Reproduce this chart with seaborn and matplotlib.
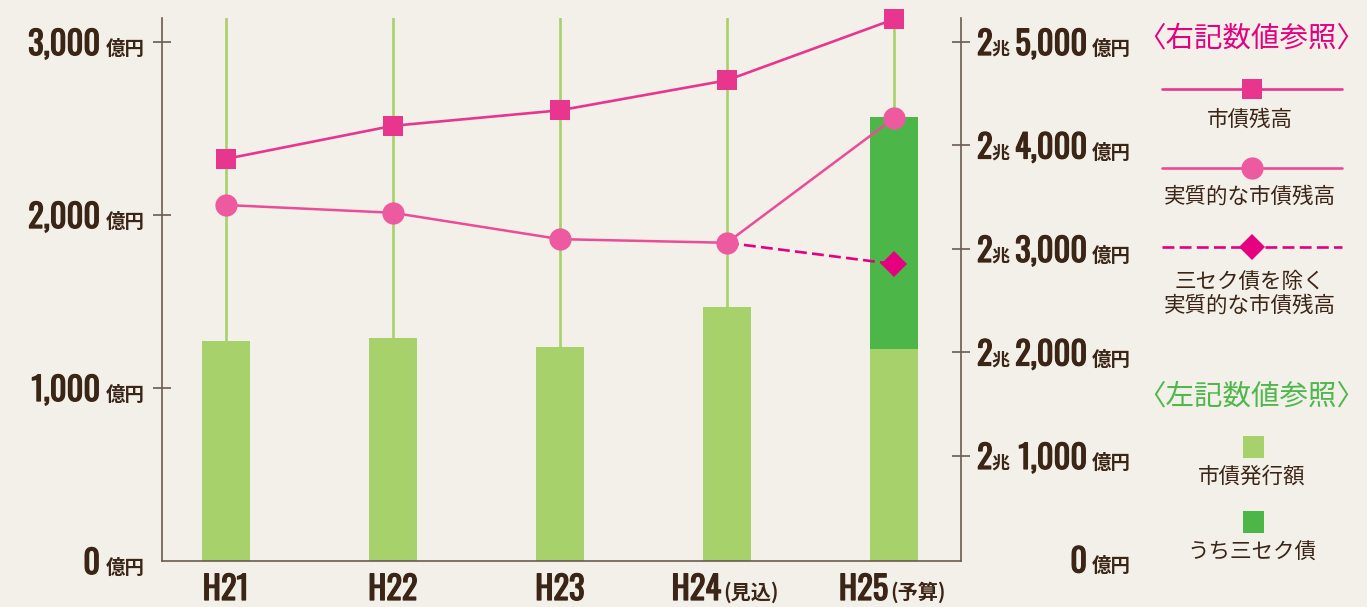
import matplotlib
matplotlib.use("Agg")
import matplotlib.pyplot as plt
import matplotlib.patheffects as pe
import seaborn as sns
import pandas as pd
from matplotlib import font_manager
from matplotlib.lines import Line2D
from matplotlib.patches import Rectangle

# ---------------- data ----------------
categories = ["H21", "H22", "H23", "H24", "H25"]
category_notes = ["", "", "", "(見込)", "(予算)"]
issuance_regular = [1270, 1290, 1235, 1466, 1225]      # 市債発行額（三セク債以外）
issuance_third_sector = [0, 0, 0, 0, 1341]              # うち三セク債
debt_balance = [23870, 24190, 24340, 24630, 25220]      # 市債残高
real_debt_balance = [23425, 23350, 23095, 23060, 24265]  # 実質的な市債残高
excl_third_x = ["H24", "H25"]
excl_third_values = [23060, 22855]                      # 三セク債を除く実質的な市債残高

left_ticks = [0, 1000, 2000, 3000]
left_tick_labels = ["0", "1,000", "2,000", "3,000"]
right_ticks = [20000, 21000, 22000, 23000, 24000, 25000]
right_tick_prefix = ["", "2", "2", "2", "2", "2"]
right_tick_labels = ["0", "1,000", "2,000", "3,000", "4,000", "5,000"]

# ---------------- style ----------------
BG = "#f3f0e9"
TXT = "#3b2516"
SPINE = "#6b5a4f"
LIGHT = "#a7d16b"
DARK = "#4cb748"
PINK_SQ = "#e8368f"
PINK_CI = "#ee5aa0"
PINK_CI_LINE = "#ec4b98"
PINK_DI = "#e4007f"
GREEN_HEAD = "#4fb74c"

sns.set_style("white")
plt.rcParams["font.family"] = ["Noto Sans CJK JP", "DejaVu Sans"]
JP = ["Noto Sans CJK JP", "DejaVu Sans"]

avail = {f.name for f in font_manager.fontManager.ttflist}
NUMFAM = "DejaVu Sans"
for cand in ["Oswald", "Bebas Neue", "Barlow Condensed", "Fira Sans Condensed",
             "Encode Sans Condensed", "Asap Condensed"]:
    if cand in avail:
        NUMFAM = cand
        break
NUMFP = font_manager.FontProperties(family=NUMFAM, weight="bold")
BOLDEN = [pe.withStroke(linewidth=0.9, foreground=TXT)]

W, H = 1367, 607
fig = plt.figure(figsize=(W / 100, H / 100), dpi=100, facecolor=BG)
renderer = fig.canvas.get_renderer()


def fit_size(sample, target_px):
    t = fig.text(0, 0, sample, fontproperties=NUMFP, fontsize=20)
    w = t.get_window_extent(renderer).width
    t.remove()
    return 20 * target_px / w


NUM_SIZE = fit_size("3,000", 72)
CAT_SIZE = fit_size("H21", 46)

ax = fig.add_axes([162 / W, 1 - 561 / H, (961 - 162) / W, (561 - 18) / H])
ax.set_facecolor("none")

df = pd.DataFrame({"cat": categories, "regular": issuance_regular,
                   "third": issuance_third_sector})
BAR_W = 0.287
sns.barplot(data=df, x="cat", y="regular", order=categories, color=LIGHT,
            saturation=1, width=BAR_W, errorbar=None, linewidth=0,
            edgecolor="none", ax=ax, zorder=2)
sns.barplot(data=df, x="cat", y="third", order=categories, color=DARK,
            saturation=1, width=BAR_W, errorbar=None, linewidth=0,
            edgecolor="none", bottom=df["regular"].to_numpy(), ax=ax, zorder=2)

for i in range(len(categories)):
    ax.axvline(i, color=LIGHT, lw=1.9, zorder=1)

ax.set_xlim(-0.381, 4.401)
ax.set_ylim(0, 3139)
ax.set_xlabel("")
ax.set_ylabel("")
ax.set_yticks(left_ticks[1:])
ax.set_yticklabels([])
ax.set_xticks([])
ax.tick_params(axis="y", direction="inout", length=13, width=1.2, color=SPINE)
for s in ["top", "right"]:
    ax.spines[s].set_visible(False)
for s in ["left", "bottom"]:
    ax.spines[s].set_color(SPINE)
    ax.spines[s].set_linewidth(1.2)

ax2 = ax.twinx()
ax2.set_facecolor("none")
xpos = {c: i for i, c in enumerate(categories)}
sns.lineplot(x=[xpos[c] for c in excl_third_x], y=excl_third_values, ax=ax2,
             color=PINK_DI, lw=1.9, ls=(0, (4.5, 2)), marker="D",
             markersize=13, markeredgewidth=0, markevery=[1], zorder=3,
             clip_on=False)
sns.lineplot(x=list(range(len(categories))), y=real_debt_balance, ax=ax2,
             color=PINK_CI_LINE, lw=1.8, marker="o", markersize=16,
             markerfacecolor=PINK_CI, markeredgewidth=0, zorder=4, clip_on=False)
sns.lineplot(x=list(range(len(categories))), y=debt_balance, ax=ax2,
             color=PINK_SQ, lw=1.9, marker="s", markersize=14.5,
             markeredgewidth=0, zorder=5, clip_on=False)
ax2.set_ylim(19985, 25232)
ax2.set_xlim(-0.381, 4.401)
ax2.set_yticks(right_ticks[1:])
ax2.set_yticklabels([])
ax2.set_ylabel("")
ax2.tick_params(axis="y", direction="inout", length=13, width=1.2, color=SPINE)
for s in ["top", "left", "bottom"]:
    ax2.spines[s].set_visible(False)
ax2.spines["right"].set_color(SPINE)
ax2.spines["right"].set_linewidth(1.2)

# ---------------- tick labels ----------------
for v, lab in zip(left_ticks, left_tick_labels):
    ax.annotate(lab, xy=(0, v), xycoords=("axes fraction", "data"),
                xytext=(-62, -13), textcoords="offset pixels", ha="right",
                va="baseline", fontproperties=NUMFP, fontsize=NUM_SIZE, color=TXT,
                path_effects=BOLDEN)
    ax.annotate("億円", xy=(0, v), xycoords=("axes fraction", "data"),
                xytext=(-56, -13), textcoords="offset pixels", ha="left",
                va="baseline", family=JP, fontsize=14, weight="bold", color=TXT)

for v, pre, lab in zip(right_ticks, right_tick_prefix, right_tick_labels):
    if pre:
        ax2.annotate(pre, xy=(1, v), xycoords=("axes fraction", "data"),
                     xytext=(16, -13), textcoords="offset pixels", ha="left",
                     va="baseline", fontproperties=NUMFP, fontsize=NUM_SIZE, color=TXT,
                     path_effects=BOLDEN)
        ax2.annotate("兆", xy=(1, v), xycoords=("axes fraction", "data"),
                     xytext=(30, -13), textcoords="offset pixels", ha="left",
                     va="baseline", family=JP, fontsize=13, weight="bold", color=TXT)
    ax2.annotate(lab, xy=(1, v), xycoords=("axes fraction", "data"),
                 xytext=(126, -13), textcoords="offset pixels", ha="right",
                 va="baseline", fontproperties=NUMFP, fontsize=NUM_SIZE, color=TXT,
                 path_effects=BOLDEN)
    ax2.annotate("億円", xy=(1, v), xycoords=("axes fraction", "data"),
                 xytext=(131, -13), textcoords="offset pixels", ha="left",
                 va="baseline", family=JP, fontsize=14, weight="bold", color=TXT)

for i, (c, note) in enumerate(zip(categories, category_notes)):
    if note:
        ax.annotate(c, xy=(i, 0), xycoords=("data", "axes fraction"),
                    xytext=(-6, -39), textcoords="offset pixels", ha="right",
                    va="baseline", fontproperties=NUMFP, fontsize=CAT_SIZE, color=TXT,
                    path_effects=BOLDEN)
        ax.annotate(note, xy=(i, 0), xycoords=("data", "axes fraction"),
                    xytext=(-4, -38), textcoords="offset pixels", ha="left",
                    va="baseline", family=JP, fontsize=14.5, weight="bold", color=TXT)
    else:
        ax.annotate(c, xy=(i, 0), xycoords=("data", "axes fraction"),
                    xytext=(0, -39), textcoords="offset pixels", ha="center",
                    va="baseline", fontproperties=NUMFP, fontsize=CAT_SIZE, color=TXT,
                    path_effects=BOLDEN)

# ---------------- legend (right side) ----------------
def fx(x):
    return x / W


def fy(y):
    return 1 - y / H


fig.text(fx(1251), fy(39), "〈右記数値参照〉", ha="center", va="center",
         family=JP, fontsize=20.5, color=PINK_DI)
fig.text(fx(1251), fy(397), "〈左記数値参照〉", ha="center", va="center",
         family=JP, fontsize=20.5, color=GREEN_HEAD)

leg_items = [
    (89, PINK_SQ, PINK_SQ, "s", 14.5, "-", ["市債残高"], [120]),
    (168, PINK_CI_LINE, PINK_CI, "o", 16, "-", ["実質的な市債残高"], [197]),
    (247, PINK_DI, PINK_DI, "D", 13, (0, (4.5, 2)), ["三セク債を除く", "実質的な市債残高"], [282, 306]),
]
for y, lc, mc, mk, ms, ls, texts, tys in leg_items:
    fig.add_artist(Line2D([fx(1162), fx(1342)], [fy(y), fy(y)], color=lc, lw=1.9,
                          ls=ls, transform=fig.transFigure))
    fig.add_artist(Line2D([fx(1252)], [fy(y)], marker=mk, markersize=ms, color=mc,
                          markeredgewidth=0, ls="none", transform=fig.transFigure))
    for t, ty in zip(texts, tys):
        fig.text(fx(1250), fy(ty), t, ha="center", va="center", family=JP,
                 fontsize=15.5, color=TXT)

for yc, col, t, ty in [(447, LIGHT, "市債発行額", 477), (522, DARK, "うち三セク債", 553)]:
    fig.add_artist(Rectangle((fx(1243), fy(yc + 11)), 21 / W, 22 / H, color=col,
                             transform=fig.transFigure, lw=0))
    fig.text(fx(1252), fy(ty), t, ha="center", va="center", family=JP,
             fontsize=15.5, color=TXT)

fig.savefig("out.png", dpi=100, facecolor=BG)
